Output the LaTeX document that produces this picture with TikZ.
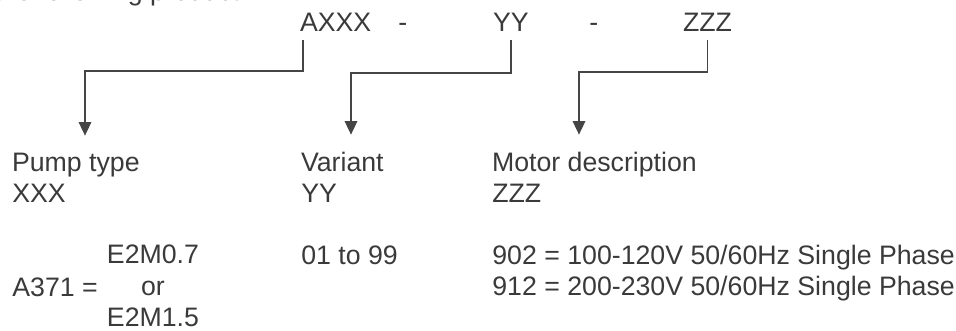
\documentclass[tikz,border=0pt]{standalone}
\usepackage{fontspec}
\setmainfont{Liberation Sans}
\usepackage{tikz}
\usetikzlibrary{arrows.meta, positioning}

\definecolor{inkgray}{HTML}{3A3A3A}
\definecolor{linegray}{HTML}{454545}

\begin{document}
\begin{tikzpicture}[
    x=0.02cm, y=-0.02cm,
    txt/.style={anchor=base west, inner sep=0pt, text=inkgray, font=\fontsize{15.2}{18}\selectfont},
    code/.style={txt, outer xsep=0pt, outer ysep=0.16cm},
    head/.style={txt, outer xsep=0pt, outer ysep=0.34cm},
    arrow/.style={-{Triangle[length=0.27cm, width=0.25cm]}, line width=0.03cm, draw=linegray}
]
\useasboundingbox (0,0) rectangle (956,331);
\clip (0,0) rectangle (956,331);

% Zeile oben (abgeschnitten)
\node (intro) [txt] at (-6,0.5) {the following product};

% Produktcode
\node (axxx) [code] at (300,32) {AXXX};
\node (dash1) [txt] at (398,32) {-};
\node (yy) [code] at (493,32) {YY};
\node (dash2) [txt] at (589,32) {-};
\node (zzz) [code] at (683,32) {ZZZ};

% Spaltenkoepfe
\node (pump) [head] at (12,171) {Pump type};
\node (pumpcode) [txt] at (12,202) {XXX};
\node (variant) [head] at (301,171) {Variant};
\node (variantcode) [txt] at (301,202) {YY};
\node (motor) [head] at (492,171) {Motor description};
\node (motorcode) [txt] at (492,202) {ZZZ};

% Werte
\node (a371) [txt] at (12,296) {A371 =};
\node (sizes) [txt, anchor=center, align=center] at (153,286) {E2M0.7\\or\\E2M1.5};
\node (range) [txt] at (301,264) {01 to 99};
\node (volt1) [txt] at (492,264) {902 = 100-120V 50/60Hz Single Phase};
\node (volt2) [txt] at (492,295) {912 = 200-230V 50/60Hz Single Phase};

% Knickpunkte
\coordinate (pumpbend) at (85,71);
\coordinate (variantbend) at (351,73);
\coordinate (motorbend) at (579,72);

% Verbindungen
\draw [arrow] ([xshift=0.06cm]axxx.south west) |- (pumpbend) -- (pumpbend |- pump.north);
\draw [arrow] (yy.south) |- (variantbend) -- (variantbend |- variant.north);
\draw [arrow] (zzz.south) |- (motorbend) -- (motorbend |- motor.north);

\end{tikzpicture}
\end{document}
